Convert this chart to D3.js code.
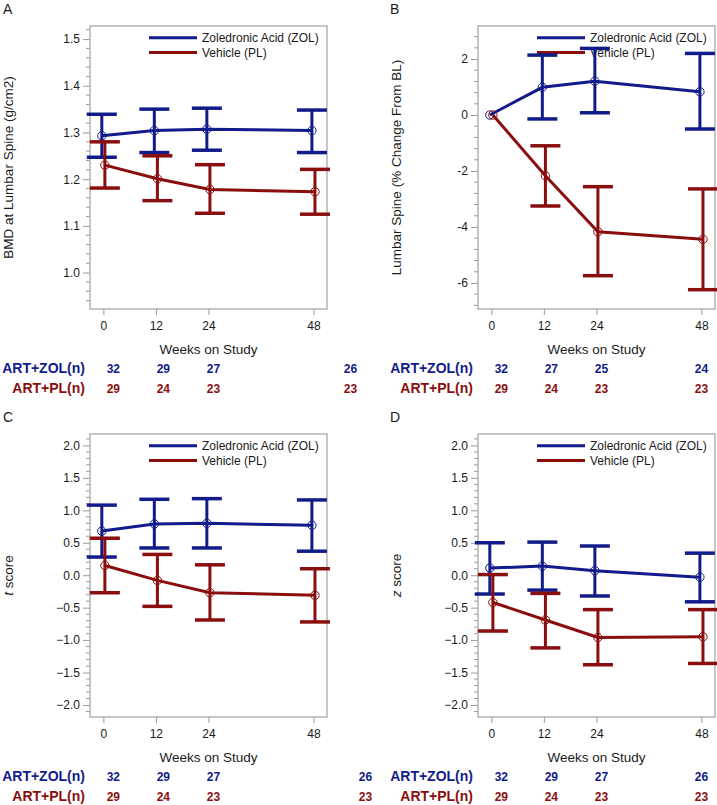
<!DOCTYPE html>
<html>
<head>
<meta charset="utf-8">
<script src="https://cdn.jsdelivr.net/npm/d3@7"></script>
<style>
	body { margin: 0; background: #fff; }
	text { font-family: "Liberation Sans", Arial, sans-serif; fill: #1a1a1a; }
</style>
</head>
<body>
<div id="graph"></div>
<script>
/*
 * values: mean with lower / upper bar ends
 */
var weeks = [0, 12, 24, 48];
var groupNames = ["Zoledronic Acid (ZOL)", "Vehicle (PL)"];
var rowNames = ["ART+ZOL(n)", "ART+PL(n)"];

// A: BMD at lumbar spine
var bmdZolMean = [1.293, 1.304, 1.307, 1.304];
var bmdZolLow = [1.247, 1.257, 1.262, 1.257];
var bmdZolHigh = [1.339, 1.350, 1.352, 1.348];
var bmdPlMean = [1.230, 1.201, 1.178, 1.173];
var bmdPlLow = [1.181, 1.154, 1.127, 1.125];
var bmdPlHigh = [1.280, 1.250, 1.231, 1.221];
var bmdTicks = [1.0, 1.1, 1.2, 1.3, 1.4, 1.5];

// B: % change from baseline
var pctZolMean = [0, 0.99, 1.21, 0.83];
var pctZolLow = [0, -0.14, 0.08, -0.50];
var pctZolHigh = [0, 2.14, 2.38, 2.20];
var pctPlMean = [0, -2.17, -4.17, -4.44];
var pctPlLow = [0, -3.25, -5.74, -6.24];
var pctPlHigh = [0, -1.10, -2.56, -2.64];
var pctTicks = [-6, -4, -2, 0, 2];

// C: t score
var tZolMean = [0.68, 0.79, 0.80, 0.77];
var tZolLow = [0.28, 0.42, 0.42, 0.37];
var tZolHigh = [1.08, 1.17, 1.18, 1.16];
var tPlMean = [0.15, -0.08, -0.27, -0.31];
var tPlLow = [-0.27, -0.48, -0.69, -0.72];
var tPlHigh = [0.57, 0.32, 0.16, 0.10];

// D: z score
var zZolMean = [0.11, 0.14, 0.07, -0.03];
var zZolLow = [-0.29, -0.23, -0.32, -0.41];
var zZolHigh = [0.50, 0.51, 0.45, 0.34];
var zPlMean = [-0.42, -0.69, -0.96, -0.95];
var zPlLow = [-0.86, -1.12, -1.38, -1.36];
var zPlHigh = [0.01, -0.28, -0.53, -0.53];
var scoreTicks = [-2.0, -1.5, -1.0, -0.5, 0.0, 0.5, 1.0, 1.5, 2.0];

// numbers at risk
var nZolA = [32, 29, 27, 26], nPlA = [29, 24, 23, 23];
var nZolB = [32, 27, 25, 24], nPlB = [29, 24, 23, 23];
var nZolC = [32, 29, 27, 26], nPlC = [29, 24, 23, 23];
var nZolD = [32, 29, 27, 26], nPlD = [29, 24, 23, 23];

var blue = "#111c8a", red = "#8a0e0e";
var width = 717, height = 805;
var plotW = 237, plotH = 283;

var hyphen = d3.formatLocale({ decimal: ".", thousands: ",",
	grouping: [3], currency: ["$", ""], minus: "-" });

var panels = [
	{ letter: "A", ox: 0, oy: 0, domain: [0.922, 1.528], ticks: bmdTicks,
		minor: 0.02, fmt: d3.format(".1f"),
		title: ["BMD at Lumbar Spine (g/cm2)"],
		zol: [bmdZolMean, bmdZolLow, bmdZolHigh],
		pl: [bmdPlMean, bmdPlLow, bmdPlHigh],
		n: [nZolA, nPlA], lastShift: 37 },
	{ letter: "B", ox: 388, oy: 0, domain: [-6.93, 3.18], ticks: pctTicks,
		minor: 0.4, fmt: hyphen.format("d"),
		title: ["Lumbar Spine (% Change From BL)"],
		zol: [pctZolMean, pctZolLow, pctZolHigh],
		pl: [pctPlMean, pctPlLow, pctPlHigh],
		n: [nZolB, nPlB], lastShift: 0 },
	{ letter: "C", ox: 0, oy: 408, domain: [-2.185, 2.176], ticks: scoreTicks,
		minor: 0.1, fmt: d3.format(".1f"),
		title: ["t", " score"],
		zol: [tZolMean, tZolLow, tZolHigh],
		pl: [tPlMean, tPlLow, tPlHigh],
		n: [nZolC, nPlC], lastShift: 52 },
	{ letter: "D", ox: 388, oy: 408, domain: [-2.185, 2.176], ticks: scoreTicks,
		minor: 0.1, fmt: d3.format(".1f"),
		title: ["z", " score"],
		zol: [zZolMean, zZolLow, zZolHigh],
		pl: [zPlMean, zPlLow, zPlHigh],
		n: [nZolD, nPlD], lastShift: 0 }
];

var svg = d3.select("#graph").append("svg")
	.attr("width", width)
	.attr("height", height);

function drawPanel(p) {
	var left = p.ox + 90, top = p.oy + 26;
	var g = svg.append("g");

	var xScale = d3.scaleLinear()
		.domain([-3.05, 51.1])
		.range([left, left + plotW]);
	var yScale = d3.scaleLinear()
		.domain(p.domain)
		.range([top + plotH, top]);
	var tableScale = d3.scaleLinear()
		.domain([0, 48])
		.range([xScale(0) + 10, xScale(48)]);

	g.append("text")
		.attr("x", p.ox + (p.ox ? 2 : 3))
		.attr("y", p.oy + 14)
		.style("font-size", "14px")
		.text(p.letter);

	// minor ticks
	var minors = d3.range(Math.ceil(p.domain[0] / p.minor),
		Math.floor(p.domain[1] / p.minor) + 1)
		.map(function (i) { return i * p.minor; })
		.filter(function (v) {
			return !p.ticks.some(function (t) { return Math.abs(t - v) < 1e-6; });
		});
	g.selectAll(".minor").data(minors).enter().append("line")
		.attr("x1", left - 4).attr("x2", left)
		.attr("y1", function (d) { return yScale(d); })
		.attr("y2", function (d) { return yScale(d); })
		.attr("stroke", "#9a9a9a");

	var yAxis = d3.axisLeft(yScale)
		.tickValues(p.ticks)
		.tickFormat(p.fmt)
		.tickSize(7)
		.tickPadding(3);
	var ya = g.append("g")
		.attr("transform", "translate(" + left + ",0)")
		.call(yAxis);
	ya.select(".domain").remove();
	ya.selectAll("line").attr("stroke", "#9a9a9a");
	ya.selectAll("text").style("font-size", "12px")
		.style("font-family", "'Liberation Sans', Arial, sans-serif")
		.attr("fill", "#1a1a1a");

	var xAxis = d3.axisBottom(xScale)
		.tickValues(weeks)
		.tickFormat(d3.format("d"))
		.tickSize(6)
		.tickPadding(6);
	var xa = g.append("g")
		.attr("transform", "translate(0," + (top + plotH) + ")")
		.call(xAxis);
	xa.select(".domain").remove();
	xa.selectAll("line").attr("stroke", "#9a9a9a");
	xa.selectAll("text").style("font-size", "12px")
		.style("font-family", "'Liberation Sans', Arial, sans-serif")
		.attr("fill", "#1a1a1a");

	g.append("rect")
		.attr("x", left).attr("y", top)
		.attr("width", plotW).attr("height", plotH)
		.attr("fill", "none")
		.attr("stroke", "#a8a8a8")
		.attr("stroke-width", 1.3);

	// y title
	var yt = g.append("text")
		.attr("transform", "translate(" + (p.ox + 13) + "," + (top + plotH / 2)
			+ ") rotate(-90)")
		.attr("text-anchor", "middle")
		.style("font-size", "13.5px");
	p.title.forEach(function (s, i) {
		yt.append("tspan")
			.style("font-style", p.title.length > 1 && i == 0 ? "italic" : "normal")
			.text(s);
	});

	g.append("text")
		.attr("x", left + plotW / 2)
		.attr("y", top + plotH + 45)
		.attr("text-anchor", "middle")
		.style("font-size", "13.5px")
		.text("Weeks on Study");

	// legend
	[blue, red].forEach(function (c, i) {
		var ly = top + 11.7 + i * 14.8;
		g.append("line")
			.attr("x1", left + 59).attr("x2", left + 107)
			.attr("y1", ly).attr("y2", ly)
			.attr("stroke", c).attr("stroke-width", 3);
		g.append("text")
			.attr("x", left + 112).attr("y", ly + 4.3)
			.style("font-size", "12px")
			.text(groupNames[i]);
	});

	// series
	[[p.zol, blue, -0.35], [p.pl, red, 0.35]].forEach(function (s) {
		var mean = s[0][0], low = s[0][1], high = s[0][2], c = s[1], dx = s[2];
		var pts = weeks.map(function (w, i) {
			return { x: xScale(w + dx), m: mean[i], lo: low[i], hi: high[i] };
		});
		var sg = g.append("g").attr("stroke", c).attr("fill", "none");
		pts.forEach(function (d) {
			if (d.hi - d.lo < 1e-9) return;
			sg.append("line")
				.attr("x1", d.x).attr("x2", d.x)
				.attr("y1", yScale(d.lo)).attr("y2", yScale(d.hi))
				.attr("stroke-width", 3);
			[d.lo, d.hi].forEach(function (v) {
				sg.append("line")
					.attr("x1", d.x - 15).attr("x2", d.x + 15)
					.attr("y1", yScale(v)).attr("y2", yScale(v))
					.attr("stroke-width", 3.5);
			});
		});
		var line = d3.line()
			.x(function (d) { return d.x; })
			.y(function (d) { return yScale(d.m); });
		sg.append("path")
			.datum(pts)
			.attr("d", line)
			.attr("stroke-width", 3);
		sg.selectAll("circle").data(pts).enter().append("circle")
			.attr("cx", function (d) { return d.x; })
			.attr("cy", function (d) { return yScale(d.m); })
			.attr("r", 4.2)
			.attr("fill", "none")
			.attr("stroke-width", 1);
	});

	// numbers at risk
	[blue, red].forEach(function (c, i) {
		var ry = top + plotH + 64 + i * 20;
		g.append("text")
			.attr("x", left - 5).attr("y", ry)
			.attr("text-anchor", "end")
			.style("font-size", "14px")
			.style("font-weight", "bold")
			.style("fill", c)
			.text(rowNames[i]);
		p.n[i].forEach(function (v, j) {
			g.append("text")
				.attr("x", tableScale(weeks[j]) + (j == 3 ? p.lastShift : 0))
				.attr("y", ry - 0.5)
				.attr("text-anchor", "middle")
				.style("font-size", "12px")
				.style("font-weight", "bold")
				.style("fill", c)
				.text(v);
		});
	});
}

panels.forEach(drawPanel);
</script>
</body>
</html>
